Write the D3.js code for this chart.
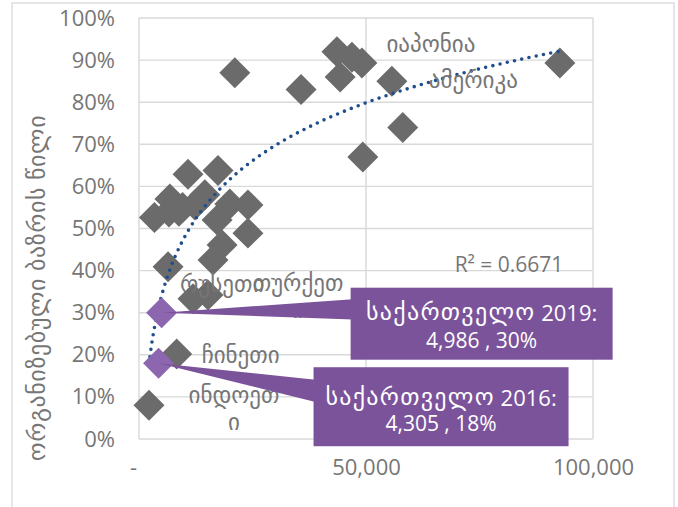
<!DOCTYPE html>
<html>
<head>
<meta charset="utf-8">
<script src="https://cdn.jsdelivr.net/npm/d3@7"></script>
<style>
  html, body { margin: 0; padding: 0; background: #fff; }
  svg { display: block; }
  text { font-family: "Open Sans", "DejaVu Sans", sans-serif; }
</style>
</head>
<body>
<svg id="chart" width="678" height="507"></svg>
<script>
// GDP per capita (USD) vs. share of organised retail
const names = ["ინდოეთი", "", "ჩინეთი", "", "", "", "", "", "", "", "", "", "", "", "", "", "", "",
  "რუსეთი", "თურქეთი", "", "", "იაპონია", "", "", "", "ამერიკა", "", "", ""];
const gdp = [2200, 3400, 8300, 6800, 6600, 8800, 10800, 17400, 12300, 14500, 17200, 20000, 24000, 24000,
  18300, 16300, 6400, 21100, 11900, 15200, 35700, 49100, 43600, 46900, 44300, 58100, 55700, 49300, 92700, 9600];
const share = [0.08, 0.526, 0.202, 0.57, 0.539, 0.541, 0.629, 0.638, 0.556, 0.58, 0.52, 0.558, 0.556, 0.489,
  0.461, 0.425, 0.409, 0.87, 0.333, 0.342, 0.83, 0.893, 0.92, 0.907, 0.86, 0.74, 0.85, 0.67, 0.893, 0.55];

// Georgia, highlighted
const geoNames = ["საქართველო", "საქართველო"];
const geoYears = ["2019:", "2016:"];
const geoGdp = [4986, 4305];
const geoShare = [0.30, 0.18];

const yTicks = [0, 0.1, 0.2, 0.3, 0.4, 0.5, 0.6, 0.7, 0.8, 0.9, 1.0];
const xTicks = [0, 50000, 100000];
const yTitle = "ორგანიზებული ბაზრის წილი";
const r2Label = "R² = 0.6671";

const svg = d3.select("#chart");
const x = d3.scaleLinear().domain([0, 100000]).range([139, 593]);
const y = d3.scaleLinear().domain([0, 1]).range([439, 18]);

const grid = "#d9d9d9", textGrey = "#767676", pointGrey = "#6b6b6b";
const geoFont = "'DejaVu Sans', sans-serif";

// chart frame
svg.append("rect").attr("x", 12).attr("y", 3).attr("width", 662).attr("height", 530)
  .attr("fill", "none").attr("stroke", grid).attr("stroke-width", 1.3);

// gridlines
svg.append("g").selectAll("line").data(yTicks).join("line")
  .attr("x1", x(0)).attr("x2", x(100000)).attr("y1", d => y(d)).attr("y2", d => y(d))
  .attr("stroke", grid).attr("stroke-width", 1.4);
svg.append("g").selectAll("line").data(xTicks).join("line")
  .attr("x1", d => x(d)).attr("x2", d => x(d)).attr("y1", y(0)).attr("y2", y(1))
  .attr("stroke", grid).attr("stroke-width", 1.4);

// axes (labels only)
const yAxis = svg.append("g").attr("transform", `translate(${x(0)},0)`)
  .call(d3.axisLeft(y).tickValues(yTicks).tickFormat(d3.format(".0%")).tickSize(0).tickPadding(24));
const xAxis = svg.append("g").attr("transform", `translate(0,${y(0)})`)
  .call(d3.axisBottom(x).tickValues(xTicks).tickFormat(d => d === 0 ? "-" : d3.format(",")(d)).tickSize(0).tickPadding(20));
[yAxis, xAxis].forEach(g => {
  g.select(".domain").remove();
  g.selectAll("text").attr("fill", textGrey).attr("font-size", 22).attr("font-family", "'Open Sans', sans-serif");
});
xAxis.selectAll("text").filter(d => d === 0).attr("dx", -6);

// y-axis title
svg.append("text")
  .attr("transform", `translate(35,${288}) rotate(-90)`)
  .attr("text-anchor", "middle").attr("dominant-baseline", "central")
  .attr("fill", textGrey).attr("font-size", 24).attr("letter-spacing", 0.6).attr("font-family", geoFont)
  .text(yTitle);

// logarithmic trendline fitted to all points
const allX = gdp.concat(geoGdp), allY = share.concat(geoShare);
const lx = allX.map(Math.log);
const mx = d3.mean(lx), my = d3.mean(allY);
const slope = d3.sum(lx, (v, i) => (v - mx) * (allY[i] - my)) / d3.sum(lx, v => (v - mx) ** 2);
const intercept = my - slope * mx;
const [xmin, xmax] = d3.extent(allX);
const trendPts = d3.range(0, 201).map(i => {
  const xv = xmin * Math.pow(xmax / xmin, i / 200);
  return [xv, slope * Math.log(xv) + intercept];
});

// diamonds
const diamond = d3.symbol().type(d3.symbolSquare).size(480);
svg.append("g").selectAll("path").data(gdp.map((g, i) => ({ g, s: share[i] }))).join("path")
  .attr("d", diamond)
  .attr("transform", d => `translate(${x(d.g)},${y(d.s)}) rotate(45)`)
  .attr("fill", pointGrey);

svg.append("path").datum(trendPts)
  .attr("d", d3.line().x(d => x(d[0])).y(d => y(d[1])).curve(d3.curveBasis))
  .attr("fill", "none").attr("stroke", "#1f4e8c").attr("stroke-width", 3.6)
  .attr("stroke-linecap", "round").attr("stroke-dasharray", "0 7.4");

// Georgia points
const purple = "#7b539b";
svg.append("g").selectAll("path").data(geoGdp.map((g, i) => ({ g, s: geoShare[i] }))).join("path")
  .attr("d", diamond)
  .attr("transform", d => `translate(${x(d.g)},${y(d.s)}) rotate(45)`)
  .attr("fill", "#8c66ae");

// country labels
const labelLayout = {
  "ინდოეთი": { dx: 85, dy: 2, anchor: "middle", wrap: 6 },
  "ჩინეთი": { dx: 25, dy: 0, anchor: "start" },
  "რუსეთი": { dx: -13, dy: -16, anchor: "start" },
  "თურქეთი": { dx: 90, dy: 0.5, anchor: "middle", wrap: 6 },
  "იაპონია": { dx: 94, dy: -9, anchor: "middle" },
  "ამერიკა": { dx: 81.5, dy: -2, anchor: "middle" }
};
const lineH = 27;
names.forEach((n, i) => {
  if (!n) return;
  const L = labelLayout[n];
  const lines = L.wrap ? [n.slice(0, L.wrap), n.slice(L.wrap)] : [n];
  const t = svg.append("text")
    .attr("x", x(gdp[i]) + L.dx).attr("y", y(share[i]) + L.dy - (lines.length - 1) * lineH / 2)
    .attr("text-anchor", L.anchor).attr("dominant-baseline", "central")
    .attr("fill", textGrey).attr("font-size", 23).attr("font-family", geoFont);
  lines.forEach((ln, k) => t.append("tspan").attr("x", x(gdp[i]) + L.dx).attr("dy", k ? lineH : 0).text(ln));
});

// R squared
svg.append("text").attr("x", 509).attr("y", 264).attr("text-anchor", "middle")
  .attr("dominant-baseline", "central").attr("fill", textGrey).attr("font-size", 21)
  .text(r2Label);

// callouts for Georgia
const callouts = [
  { dx: 189, dy: -25, w: 262, h: 72, l1: 24, l2: 52 },
  { dx: 155, dy: 4, w: 255, h: 79, l1: 30, l2: 56 }
];
callouts.forEach((c, i) => {
  const px = x(geoGdp[i]), py = y(geoShare[i]);
  const bx = px + c.dx, by = py + c.dy;
  const g = svg.append("g");
  g.append("path")
    .attr("d", `M${px},${py} L${bx + 2},${by + c.h * 0.16} L${bx + 2},${by + c.h * 0.44} Z`)
    .attr("fill", purple);
  g.append("rect").attr("x", bx).attr("y", by).attr("width", c.w).attr("height", c.h).attr("fill", purple);
  const t1 = g.append("text").attr("x", bx + c.w / 2).attr("y", by + c.l1)
    .attr("text-anchor", "middle").attr("dominant-baseline", "central")
    .attr("fill", "#fff").attr("font-size", 22);
  t1.append("tspan").attr("font-family", geoFont).attr("font-size", 24).attr("letter-spacing", 1.3)
    .text(geoNames[i]);
  t1.append("tspan").text(" " + geoYears[i]);
  g.append("text").attr("x", bx + c.w / 2).attr("y", by + c.l2)
    .attr("text-anchor", "middle").attr("dominant-baseline", "central")
    .attr("fill", "#fff").attr("font-size", 21)
    .text(`${d3.format(",")(geoGdp[i])} , ${d3.format(".0%")(geoShare[i])}`);
});
</script>
</body>
</html>
